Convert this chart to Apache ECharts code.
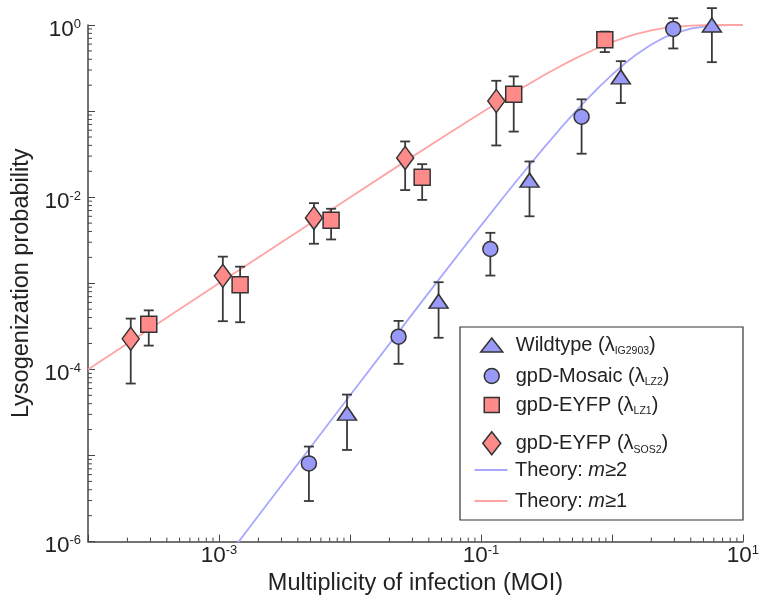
<!DOCTYPE html>
<html>
<head>
<meta charset="utf-8">
<script src="https://cdn.jsdelivr.net/npm/echarts@6/dist/echarts.min.js"></script>
<style>
  html, body { margin: 0; padding: 0; background: #fff; }
  #chart { width: 762px; height: 601px; }
</style>
</head>
<body>
<div id="chart"></div>
<script>
// each point: [MOI, probability, error low, error high]
const wildtype = [
  [0.0095, 3.1e-5, 1.16e-5, 5.1e-5],
  [0.0475, 6.2e-4, 2.33e-4, 1.03e-3],
  [0.235, 0.0158, 6.0e-3, 0.026],
  [1.17, 0.25, 0.124, 0.38],
  [5.8, 1.0, 0.37, 1.57]
]
const mosaic = [
  [0.00486, 8.1e-6, 2.96e-6, 1.27e-5],
  [0.0235, 2.4e-4, 1.16e-4, 3.66e-4],
  [0.118, 2.5e-3, 1.23e-3, 3.86e-3],
  [0.587, 0.086, 0.032, 0.137],
  [2.94, 0.90, 0.534, 1.2]
]
const eyfpLZ1 = [
  [2.91e-4, 3.35e-4, 1.89e-4, 4.85e-4],
  [1.45e-3, 9.6e-4, 3.53e-4, 1.56e-3],
  [7.18e-3, 5.4e-3, 3.23e-3, 7.34e-3],
  [0.0356, 0.017, 9.3e-3, 0.0242],
  [0.178, 0.157, 0.0578, 0.253],
  [0.883, 0.672, 0.485, 0.838]
]
const eyfpSOS2 = [
  [2.12e-4, 2.27e-4, 6.85e-5, 3.89e-4],
  [1.07e-3, 1.22e-3, 3.63e-4, 2.04e-3],
  [5.31e-3, 5.74e-3, 2.88e-3, 8.53e-3],
  [0.0264, 0.0286, 0.0121, 0.0444],
  [0.131, 0.131, 0.0399, 0.225]
]
// theory curves, values
const theoryM2 = [
  [0.0012, 7.2e-7], [0.01, 4.97e-5], [0.03, 4.41e-4], [0.05, 1.21e-3], [0.08, 3.04e-3],
  [0.1, 4.68e-3], [0.15, 0.0102], [0.2, 0.0175], [0.3, 0.0369], [0.4, 0.0616], [0.5, 0.0902],
  [0.6, 0.122], [0.8, 0.191], [1, 0.264], [1.25, 0.355], [1.5, 0.442], [2, 0.594], [2.5, 0.713],
  [3, 0.801], [4, 0.908], [5, 0.96], [6, 0.983], [8, 0.997], [10, 0.9995]
]
const theoryM1 = [
  [0.0001, 1.0e-4], [0.001, 9.99e-4], [0.01, 0.00995], [0.03, 0.0296], [0.05, 0.0488],
  [0.08, 0.0769], [0.1, 0.0952], [0.15, 0.139], [0.2, 0.181], [0.3, 0.259], [0.4, 0.33],
  [0.5, 0.393], [0.6, 0.451], [0.8, 0.551], [1, 0.632], [1.25, 0.714], [1.5, 0.777], [2, 0.865],
  [2.5, 0.918], [3, 0.95], [4, 0.982], [5, 0.993], [6, 0.9975], [8, 0.9997], [10, 1.0]
]
const xLabelExps = [-3, -1, 1]
const yLabelExps = [-6, -4, -2, 0]
const minorMults = [2, 3, 4, 5, 6, 7, 8, 9]
const xDecades = [-4, -3, -2, -1, 0]
const yDecades = [-6, -5, -4, -3, -2, -1]

const xMin = 1e-4, xMax = 10, yMin = 1e-6, yMax = 1
const FONT = '"Liberation Sans", Arial, sans-serif'
const INK = '#222'
const AXIS = '#444'
const BLUE = '#9999f8', RED = '#ff8a8a'
const BLUE_LINE = '#a8a8ff', RED_LINE = '#ffa4a4'

const xMinor = [], yMinor = []
xDecades.forEach(d => minorMults.forEach(m => xMinor.push([m * Math.pow(10, d), yMin])))
yDecades.forEach(d => minorMults.forEach(m => yMinor.push([xMin, m * Math.pow(10, d)])))

const powRich = {
  b: { fontSize: 22.5, color: INK, fontFamily: FONT, lineHeight: 24 },
  p: { fontSize: 13, color: INK, fontFamily: FONT, verticalAlign: 'top', lineHeight: 15 }
}
const powLabel = (exps) => (v) => {
  const e = Math.round(Math.log10(v))
  return exps.includes(e) ? `{b|10}{p|${e}}` : ''
}

function errorBars(params, api) {
  const x = api.value(0)
  const lo = api.coord([x, api.value(2)])
  const hi = api.coord([x, api.value(3)])
  const cap = 5
  const style = { stroke: '#3a3a3a', lineWidth: 1.8 }
  return {
    type: 'group',
    children: [
      { type: 'line', shape: { x1: lo[0], y1: lo[1], x2: hi[0], y2: hi[1] }, style },
      { type: 'line', shape: { x1: lo[0] - cap, y1: lo[1], x2: lo[0] + cap, y2: lo[1] }, style },
      { type: 'line', shape: { x1: hi[0] - cap, y1: hi[1], x2: hi[0] + cap, y2: hi[1] }, style }
    ]
  }
}
function minorTick(vertical) {
  return (params, api) => {
    const p = api.coord([api.value(0), api.value(1)])
    const len = 4
    const shape = vertical
      ? { x1: p[0], y1: p[1], x2: p[0], y2: p[1] - len }
      : { x1: p[0], y1: p[1], x2: p[0] + len, y2: p[1] }
    return { type: 'line', shape, style: { stroke: AXIS, lineWidth: 1 } }
  }
}

function scatter(name, data, symbol, size, color) {
  return {
    type: 'scatter', name, symbol, symbolSize: size, z: 5,
    data: data.map(d => [d[0], d[1]]),
    itemStyle: { color, opacity: 1, borderColor: '#333', borderWidth: 1.5 }
  }
}
function bars(data) {
  return { type: 'custom', renderItem: errorBars, data, z: 4, silent: true, encode: { x: 0, y: 1 } }
}

const legendText = {
  'Wildtype': '{t|Wildtype (λ}{s|IG2903}{t|)}',
  'gpD-Mosaic': '{t|gpD-Mosaic (λ}{s|LZ2}{t|)}',
  'gpD-EYFP LZ1': '{t|gpD-EYFP (λ}{s|LZ1}{t|)}',
  'gpD-EYFP SOS2': '{t|gpD-EYFP (λ}{s|SOS2}{t|)}',
  'Theory m≥2': '{t|Theory: }{i|m}{t|≥2}',
  'Theory m≥1': '{t|Theory: }{i|m}{t|≥1}'
}
const legendRich = {
  t: { fontSize: 20, color: INK, fontFamily: FONT, lineHeight: 24 },
  i: { fontSize: 20, color: INK, fontFamily: FONT, fontStyle: 'italic', lineHeight: 24 },
  s: { fontSize: 10.5, color: INK, fontFamily: FONT, verticalAlign: 'bottom', lineHeight: 7 }
}
// one legend per entry so every icon keeps its own size
const ICON_X = 491, TEXT_X = 515
function legendItem(name, cy, w, h, extra) {
  return Object.assign({
    data: [name], orient: 'vertical', padding: 0,
    left: ICON_X - w / 2, top: cy - 12,
    itemWidth: w, itemHeight: h,
    itemStyle: { borderWidth: 1.5, borderColor: '#333' },
    formatter: n => legendText[n],
    textStyle: { rich: legendRich, padding: [0, 0, 0, TEXT_X - ICON_X - w / 2 - 5] }
  }, extra || {})
}

const chart = echarts.init(document.getElementById('chart'))
chart.setOption({
  animation: false,
  textStyle: { fontFamily: FONT },
  grid: { left: 88, right: 16, top: 25, bottom: 54 },
  graphic: [{
    type: 'rect', shape: { x: 460, y: 327, width: 283, height: 193 },
    style: { fill: 'rgba(0,0,0,0)', stroke: '#333', lineWidth: 1.2 }, z: 100
  }],
  legend: [
    legendItem('Wildtype', 347, 22, 14),
    legendItem('gpD-Mosaic', 378, 15, 15),
    legendItem('gpD-EYFP LZ1', 407, 15, 15),
    legendItem('gpD-EYFP SOS2', 443, 18, 23),
    legendItem('Theory m≥2', 472, 33, 2, { icon: 'rect', itemStyle: { borderWidth: 0 } }),
    legendItem('Theory m≥1', 503, 33, 2, { icon: 'rect', itemStyle: { borderWidth: 0 } })
  ],
  xAxis: {
    type: 'log', logBase: 10, min: xMin, max: xMax,
    name: 'Multiplicity of infection (MOI)', nameLocation: 'middle', nameGap: 23,
    nameTextStyle: { fontSize: 23.5, color: INK, fontFamily: FONT },
    axisLine: { lineStyle: { color: AXIS, width: 1.5 } },
    axisTick: { inside: true, length: 7, lineStyle: { color: AXIS, width: 1 } },
    splitLine: { show: false },
    axisLabel: { margin: 2, formatter: powLabel(xLabelExps), rich: powRich }
  },
  yAxis: {
    type: 'log', logBase: 10, min: yMin, max: yMax, splitNumber: 6,
    name: 'Lysogenization probability', nameLocation: 'middle', nameGap: 47,
    nameTextStyle: { fontSize: 23.5, color: INK, fontFamily: FONT },
    axisLine: { lineStyle: { color: AXIS, width: 1.5 } },
    axisTick: { inside: true, length: 7, lineStyle: { color: AXIS, width: 1 } },
    splitLine: { show: false },
    axisLabel: { margin: 7, padding: [9, 0, 0, 0], formatter: powLabel(yLabelExps), rich: powRich }
  },
  series: [
    { type: 'custom', renderItem: minorTick(true), data: xMinor, silent: true, z: 1, encode: { x: 0, y: 1 } },
    { type: 'custom', renderItem: minorTick(false), data: yMinor, silent: true, z: 1, encode: { x: 0, y: 1 } },
    {
      type: 'line', name: 'Theory m≥2', data: theoryM2, symbol: 'none',
      lineStyle: { color: BLUE_LINE, width: 1.8 }, itemStyle: { color: BLUE_LINE }, z: 2
    },
    {
      type: 'line', name: 'Theory m≥1', data: theoryM1, symbol: 'none',
      lineStyle: { color: RED_LINE, width: 1.8 }, itemStyle: { color: RED_LINE }, z: 2
    },
    bars(wildtype), bars(mosaic), bars(eyfpLZ1), bars(eyfpSOS2),
    scatter('Wildtype', wildtype, 'triangle', [19, 14], BLUE),
    scatter('gpD-Mosaic', mosaic, 'circle', 15, BLUE),
    scatter('gpD-EYFP LZ1', eyfpLZ1, 'rect', 16, RED),
    scatter('gpD-EYFP SOS2', eyfpSOS2, 'diamond', [17, 23], RED)
  ]
})
</script>
</body>
</html>
